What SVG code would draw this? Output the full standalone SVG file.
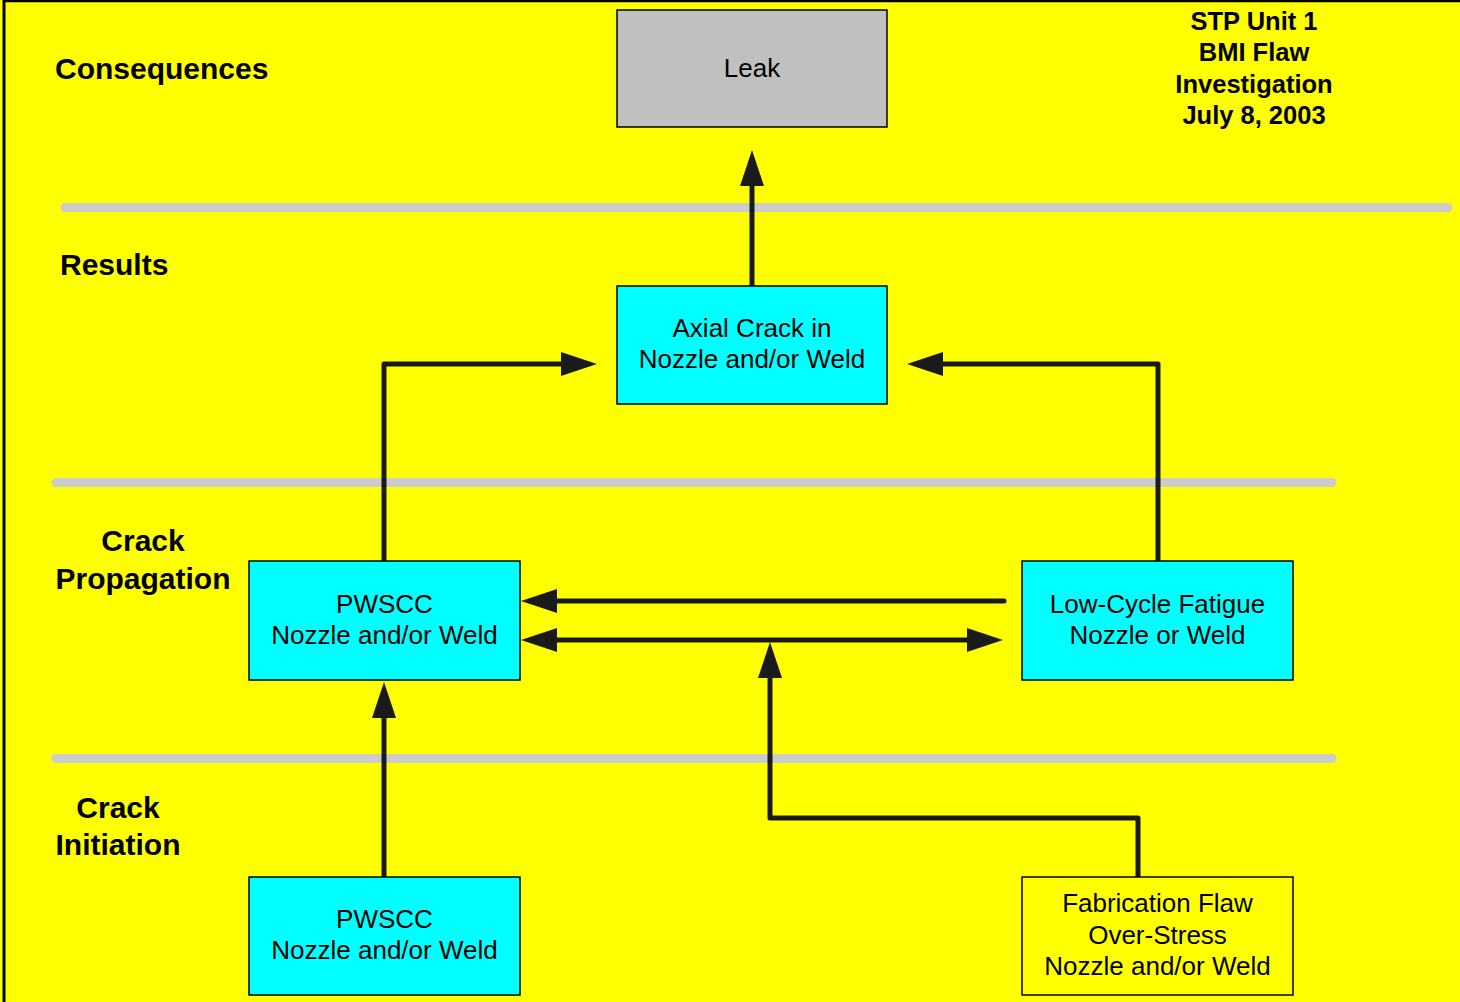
<svg xmlns="http://www.w3.org/2000/svg" width="1460" height="1002" viewBox="0 0 1460 1002">
<style>
.band{stroke:#CCCCCC;stroke-width:9;stroke-linecap:round;fill:none}
.box{stroke:#000;stroke-width:1.5}
.cyan{fill:#00FFFF}
.nt{font-family:"Liberation Sans",Arial,sans-serif;font-size:26px;fill:#000;text-anchor:middle}
.lab{font-family:"Liberation Sans",Arial,sans-serif;font-size:30px;font-weight:bold;fill:#000}
.ttl{font-family:"Liberation Sans",Arial,sans-serif;font-size:25.5px;font-weight:bold;fill:#000;text-anchor:middle}
.con{stroke:#1a1a1a;stroke-width:5;fill:none;stroke-linecap:round;stroke-linejoin:round}
</style>
<defs>
<marker id="ah" markerUnits="userSpaceOnUse" markerWidth="37" markerHeight="25" refX="0" refY="12" orient="auto-start-reverse" viewBox="0 0 37 25">
<path d="M0,0 L36,12 L0,24 z" fill="#1a1a1a"/>
</marker>
</defs>
<rect x="0" y="0" width="1460" height="1002" fill="#FFFF00"/>
<line x1="4" y1="1" x2="1460" y2="1" stroke="#000" stroke-width="2.5"/>
<line x1="4" y1="0" x2="4" y2="1002" stroke="#000" stroke-width="3"/>
<g id="bands">
<line class="band" x1="65" y1="207.5" x2="1448" y2="207.5"/>
<line class="band" x1="56" y1="482.5" x2="1332" y2="482.5"/>
<line class="band" x1="56" y1="758.5" x2="1332" y2="758.5"/>
</g>
<g id="labels">
<text class="lab" x="55" y="79">Consequences</text>
<text class="lab" x="60" y="275">Results</text>
<text class="lab" x="143" y="551" text-anchor="middle">Crack</text>
<text class="lab" x="143" y="589" text-anchor="middle">Propagation</text>
<text class="lab" x="118" y="818" text-anchor="middle">Crack</text>
<text class="lab" x="118" y="855" text-anchor="middle">Initiation</text>
</g>
<g id="title">
<text class="ttl" x="1254" y="30">STP Unit 1</text>
<text class="ttl" x="1254" y="61">BMI Flaw</text>
<text class="ttl" x="1254" y="93">Investigation</text>
<text class="ttl" x="1254" y="124">July 8, 2003</text>
</g>
<g id="connectors">
<path class="con" d="M752,286 V186" marker-end="url(#ah)"/>
<path class="con" d="M384,561 V364 H561" marker-end="url(#ah)"/>
<path class="con" d="M1158,561 V364 H943" marker-end="url(#ah)"/>
<path class="con" d="M1004,601 H557" marker-end="url(#ah)"/>
<path class="con" d="M557,640 H967" marker-start="url(#ah)" marker-end="url(#ah)"/>
<path class="con" d="M1138,877 V818 H770 V678" marker-end="url(#ah)"/>
<path class="con" d="M384,877 V718" marker-end="url(#ah)"/>
</g>
<g id="leak">
<rect class="box" x="617" y="10" width="270" height="117" fill="#C0C0C0"/>
<text class="nt" x="752" y="77">Leak</text>
</g>
<g id="axial">
<rect class="box cyan" x="617" y="286" width="270" height="118"/>
<text class="nt" x="752" y="337">Axial Crack in</text>
<text class="nt" x="752" y="368">Nozzle and/or Weld</text>
</g>
<g id="pwscc-prop">
<rect class="box cyan" x="249" y="561" width="271" height="119"/>
<text class="nt" x="384.5" y="613">PWSCC</text>
<text class="nt" x="384.5" y="644">Nozzle and/or Weld</text>
</g>
<g id="fatigue">
<rect class="box cyan" x="1022" y="561" width="271" height="119"/>
<text class="nt" x="1157.5" y="613">Low-Cycle Fatigue</text>
<text class="nt" x="1157.5" y="644">Nozzle or Weld</text>
</g>
<g id="pwscc-init">
<rect class="box cyan" x="249" y="877" width="271" height="118"/>
<text class="nt" x="384.5" y="928">PWSCC</text>
<text class="nt" x="384.5" y="959">Nozzle and/or Weld</text>
</g>
<g id="fabrication">
<rect class="box" x="1022" y="877" width="271" height="118" fill="#FFFF00"/>
<text class="nt" x="1157.5" y="912">Fabrication Flaw</text>
<text class="nt" x="1157.5" y="944">Over-Stress</text>
<text class="nt" x="1157.5" y="975">Nozzle and/or Weld</text>
</g>
</svg>
